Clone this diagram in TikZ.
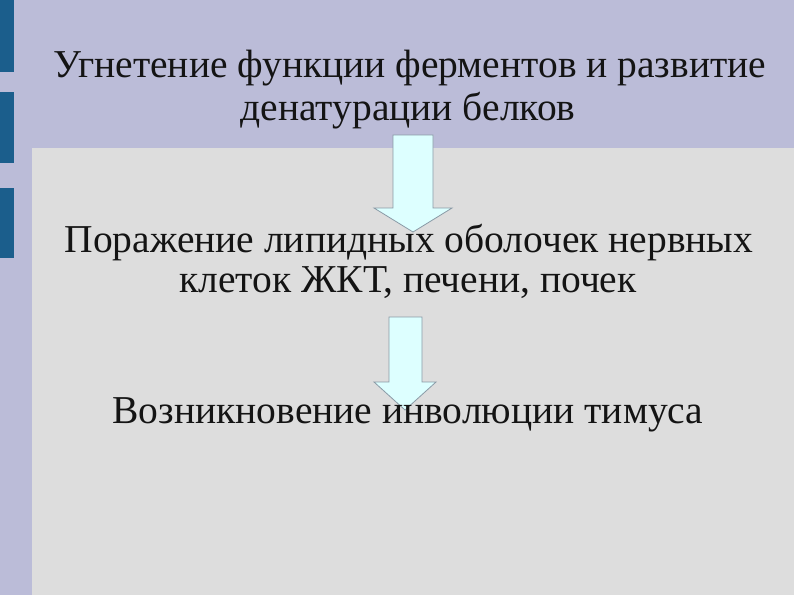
\documentclass[tikz,border=0pt]{standalone}
\usepackage{fontspec}
\setmainfont{Liberation Serif}
\definecolor{bglav}{HTML}{BBBCD8}
\definecolor{bggray}{HTML}{DDDDDD}
\definecolor{barblue}{HTML}{1B5E8C}
\definecolor{arrowfill}{HTML}{DDFFFF}
\definecolor{arrowline}{HTML}{8A9AA6}
\definecolor{txt}{HTML}{141414}
\tikzset{
  line/.style={font=\fontsize{39.5}{43}\selectfont, text=txt, anchor=base, inner sep=0pt},
  bluearrow/.style={fill=arrowfill, draw=arrowline, line width=0.8pt, line join=miter},
}
\begin{document}
\begin{tikzpicture}[x=1pt,y=-1pt]
\useasboundingbox (0,0) rectangle (794,595);
\fill[bglav] (0,0) rectangle (794,595);
\fill[bggray] (32,148) rectangle (794,595);
\fill[barblue] (0,0) rectangle (14,72);
\fill[barblue] (0,92) rectangle (14,163);
\fill[barblue] (0,188) rectangle (14,258);
% arrow 1
\draw[bluearrow] (393,135) -- (433,135) -- (433,208) -- (452,208) -- (413,232) -- (374,208) -- (393,208) -- cycle;
% arrow 2
\draw[bluearrow] (389,317) -- (422,317) -- (422,382) -- (436,382) -- (405,410) -- (374,382) -- (389,382) -- cycle;
\node[line] (l1) at (410,77) {Угнетение функции ферментов и развитие};
\node[line] (l2) at (408,120) {денатурации белков};
\node[line] (l3) at (409,252) {Поражение липидных оболочек нервных};
\node[line] (l4) at (408,292) {клеток ЖКТ, печени, почек};
\node[line] (l5) at (408,423) {Возникновение инволюции тимуса};
\end{tikzpicture}
\end{document}
